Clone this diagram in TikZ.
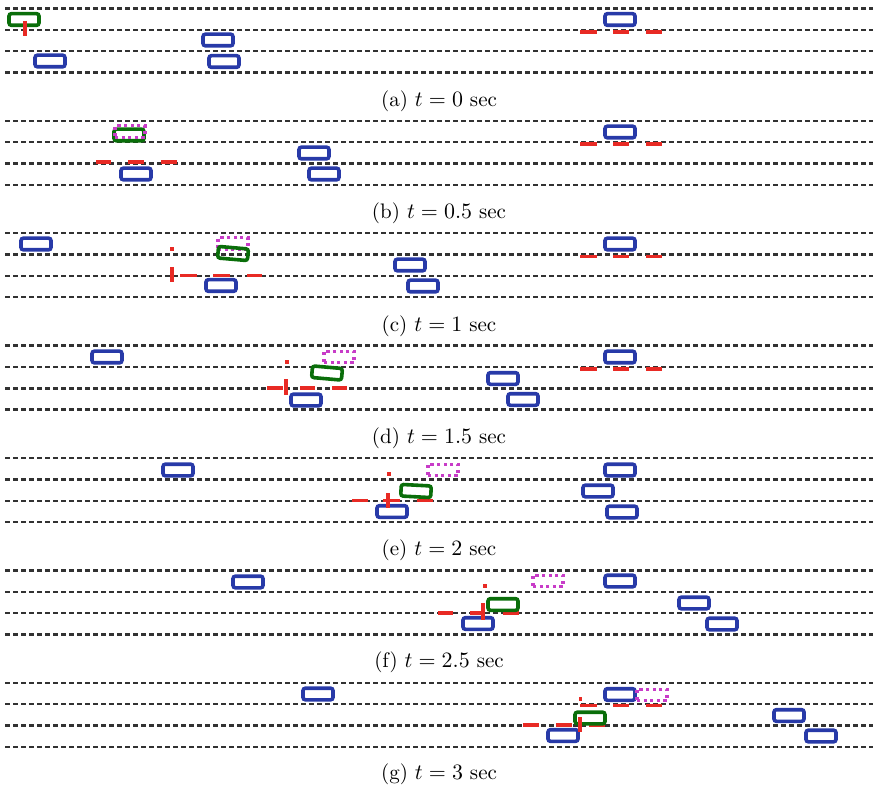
\documentclass[tikz,border=0pt]{standalone}
\usepackage{tikz}
\definecolor{carblue}{RGB}{40,58,168}
\definecolor{egogreen}{RGB}{10,110,10}
\definecolor{markred}{RGB}{232,42,36}
\definecolor{ghostmag}{RGB}{200,60,200}
\definecolor{lanegray}{RGB}{50,50,50}
\tikzset{
  lane/.style={draw=lanegray, line width=1.2pt, dash pattern=on 2.3pt off 1.7pt},
  car/.style={draw, line width=1.8pt, rounded corners=1.2pt, minimum width=15pt, minimum height=5.8pt, inner sep=0pt, fill=white},
  bluecar/.style={car, draw=carblue},
  egocar/.style={car, draw=egogreen, fill=none},
  ghostcar/.style={car, draw=ghostmag, fill=none, rounded corners=0pt, line width=1.6pt, dash pattern=on 1.6pt off 1.7pt},
  redmark/.style={draw=markred, line width=1.9pt},
  captext/.style={font=\fontsize{10.5}{12}\selectfont, inner sep=0pt}
}
\begin{document}
\begin{tikzpicture}[x=0.5pt,y=-0.5pt]
\useasboundingbox (0,0) rectangle (873,791);
% lanes
\foreach \k in {0,...,6}{
  \foreach \j in {0,...,3}{
    \draw[lane] (5,{8.5+112.4*\k+21.3*\j}) -- (873,{8.5+112.4*\k+21.3*\j});
  }
}
% captions
\node[captext] (ca) at (439,101) {(a) $t=0$ sec};
\node[captext] (cb) at (439,213.5) {(b) $t=0.5$ sec};
\node[captext] (cc) at (439,326) {(c) $t=1$ sec};
\node[captext] (cd) at (439,438) {(d) $t=1.5$ sec};
\node[captext] (ce) at (439,550.5) {(e) $t=2$ sec};
\node[captext] (cf) at (439,662.5) {(f) $t=2.5$ sec};
\node[captext] (cg) at (439,774.5) {(g) $t=3$ sec};

% ---------- panel (a)
\draw[redmark] (580,32) -- (597,32) (613,32) -- (629,32) (646,32) -- (662,32);
\node[bluecar] (a1) at (50,61) {};
\node[bluecar] (a2) at (218,40) {};
\node[bluecar] (a3) at (224,61.5) {};
\node[bluecar] (a4) at (620,19.5) {};
\node[egocar] (ag) at (24,19.5) {};
\draw[redmark] (25,21) -- (25,36);

% ---------- panel (b)
\draw[redmark] (580,144) -- (597,144) (613,144) -- (629,144) (646,144) -- (662,144);
\draw[redmark] (96,162) -- (111,162) (128,162) -- (144,162) (161,162) -- (177,162);
\node[bluecar] (b1) at (136,174) {};
\node[bluecar] (b2) at (314,153) {};
\node[bluecar] (b3) at (324,174) {};
\node[bluecar] (b4) at (620,132) {};
\node[egocar] (bg) at (129,135) {};
\node[ghostcar] (bm) at (130,131.5) {};

% ---------- panel (c)
\draw[redmark] (580,256.5) -- (597,256.5) (613,256.5) -- (629,256.5) (646,256.5) -- (662,256.5);
\draw[redmark] (180,275.5) -- (197,275.5) (213,275.5) -- (230,275.5) (247,275.5) -- (262,275.5);
\draw[redmark] (170,249) -- (174,249);
\draw[redmark] (172,267) -- (172,282);
\node[bluecar] (c0) at (36,244) {};
\node[bluecar] (c1) at (221,285.5) {};
\node[bluecar] (c2) at (410,265) {};
\node[bluecar] (c3) at (423,286) {};
\node[bluecar] (c4) at (620,244) {};
\node[ghostcar] (cm) at (233,243.5) {};
\node[egocar, rotate=-5] (cgr) at (233,253.5) {};

% ---------- panel (d)
\draw[redmark] (580,369) -- (597,369) (613,369) -- (629,369) (646,369) -- (662,369);
\draw[redmark] (267,388) -- (283,388) (300,388) -- (315,388) (332,388) -- (347,388);
\draw[redmark] (285,362) -- (289,362);
\draw[redmark] (286,379) -- (286,395);
\node[bluecar] (d0) at (107,357) {};
\node[bluecar] (d1) at (306,400) {};
\node[bluecar] (d2) at (503,378.5) {};
\node[bluecar] (d3) at (523,399.5) {};
\node[bluecar] (d4) at (620,357) {};
\node[ghostcar] (dm) at (339,357) {};
\node[egocar, rotate=-5] (dg) at (327,373) {};

% ---------- panel (e)
\draw[redmark] (352,500.5) -- (368,500.5) (383,500.5) -- (400,500.5) (417,500.5) -- (433,500.5);
\draw[redmark] (387,474) -- (391,474);
\node[bluecar] (e0) at (178,470) {};
\node[bluecar] (e1) at (392,511.5) {};
\node[bluecar] (e2) at (598,491) {};
\node[bluecar] (e3) at (620,470) {};
\node[bluecar] (e4) at (622,512) {};
\node[ghostcar] (em) at (443,470) {};
\node[egocar, rotate=-3] (eg) at (416,491) {};
\draw[redmark] (388,493) -- (388,508);

% ---------- panel (f)
\draw[redmark] (438,613) -- (453,613) (470,613) -- (485,613) (503,613) -- (519,613);
\draw[redmark] (483,586) -- (487,586);
\node[bluecar] (f0) at (248,582) {};
\node[bluecar] (f1) at (478,623.5) {};
\node[bluecar] (f2) at (620,581) {};
\node[bluecar] (f3) at (694,603) {};
\node[bluecar] (f4) at (722,624) {};
\node[ghostcar] (fm) at (548,581) {};
\node[egocar] (fg) at (503,604.5) {};
\draw[redmark] (483,603) -- (483,620);

% ---------- panel (g)
\draw[redmark] (580,705.5) -- (597,705.5) (613,705.5) -- (629,705.5) (646,705.5) -- (662,705.5);
\draw[redmark] (523,725) -- (539,725) (556,725) -- (572,725) (589,725) -- (605,725);
\draw[redmark] (579,699) -- (582,699);
\node[bluecar] (g0) at (318,694) {};
\node[bluecar] (g1) at (563,735.5) {};
\node[bluecar] (g3) at (789,715.5) {};
\node[bluecar] (g4) at (821,736) {};
\node[egocar] (gg) at (590,718) {};
\node[bluecar] (g2) at (620,694.5) {};
\node[ghostcar] (gm) at (652,695) {};
\draw[redmark] (580,717) -- (580,732);
\end{tikzpicture}
\end{document}
